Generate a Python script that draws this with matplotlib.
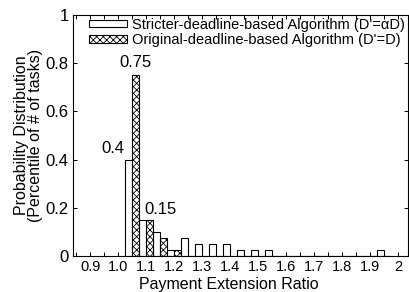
import matplotlib.pyplot as plt
import numpy as np

plt.rcParams['font.family'] = ['Liberation Sans', 'DejaVu Sans']
plt.rcParams['hatch.linewidth'] = 0.6

# bin centers (payment extension ratio)
ratios = [1.05, 1.10, 1.15, 1.20, 1.25, 1.30, 1.35, 1.40, 1.45, 1.50,
          1.55, 1.60, 1.65, 1.70, 1.75, 1.80, 1.85, 1.90, 1.95]
stricter = [0.4, 0.15, 0.1, 0.025, 0.075, 0.05, 0.05, 0.05, 0.025, 0.025,
            0.025, 0, 0, 0, 0, 0, 0, 0, 0.025]
original = [0.75, 0.15, 0.075, 0.025, 0, 0, 0, 0, 0, 0,
            0, 0, 0, 0, 0, 0, 0, 0, 0]
xtick_vals = [0.9, 1.0, 1.1, 1.2, 1.3, 1.4, 1.5, 1.6, 1.7, 1.8, 1.9, 2.0]
xtick_labels = ['0.9', '1.0', '1.1', '1.2', '1.3', '1.4', '1.5',
                '1.6', '1.7', '1.8', '1.9', '2']
ytick_vals = [0, 0.2, 0.4, 0.6, 0.8, 1]
ytick_labels = ['0', '0.2', '0.4', '0.6', '0.8', '1']

fig = plt.figure(figsize=(4.09, 2.92), dpi=100)
ax = fig.add_axes([73 / 409, 1 - 256 / 292, 335 / 409, 241 / 292])

w = 0.025
x = np.array(ratios)
ax.bar(x - w / 2, stricter, width=w, facecolor='white', edgecolor='black',
       linewidth=0.8, label="Stricter-deadline-based Algorithm (D'=\u03b1D)")
ax.bar(x + w / 2, original, width=w, facecolor='white', edgecolor='black',
       linewidth=0.8, hatch='xxxxx',
       label="Original-deadline-based Algorithm (D'=D)")

ax.text(1.05 - w - 0.003, 0.415, '0.4', ha='right', va='bottom', fontsize=12)
ax.text(1.05 + w / 2, 0.77, '0.75', ha='center', va='bottom', fontsize=12)
ax.text(1.10 - 0.006, 0.16, '0.15', ha='left', va='bottom', fontsize=12)

ax.set_xlim(0.838, 2.035)
ax.set_ylim(0, 1)
ax.set_xticks(xtick_vals)
ax.set_xticklabels(xtick_labels)
ax.set_xticks(np.arange(0.85, 2.04, 0.05), minor=True)
ax.set_yticks(ytick_vals)
ax.set_yticklabels(ytick_labels)
ax.tick_params(axis='both', which='both', direction='in', top=True, right=True,
               width=0.7)
ax.tick_params(axis='x', labelsize=10.5)
ax.tick_params(axis='y', labelsize=12)
ax.tick_params(axis='both', which='major', length=3, pad=3)
ax.tick_params(axis='x', which='minor', length=3)
ax.set_xlabel('Payment Extension Ratio', fontsize=11.5)
ax.xaxis.label.set_va('baseline')
ax.xaxis.set_label_coords((229 - 73) / 335, -(289 - 256) / 241)
ax.set_ylabel('Probability Distribution\n(Percentile of # of tasks)',
              fontsize=11.5, labelpad=2, linespacing=0.95)
for s in ax.spines.values():
    s.set_linewidth(0.8)

ax.legend(loc='upper right', frameon=False, fontsize=10.5, handlelength=2.6,
          handleheight=0.4, handletextpad=0.35, labelspacing=0.1,
          borderaxespad=0.05, borderpad=0.15)

fig.savefig('out.png', dpi=100)
